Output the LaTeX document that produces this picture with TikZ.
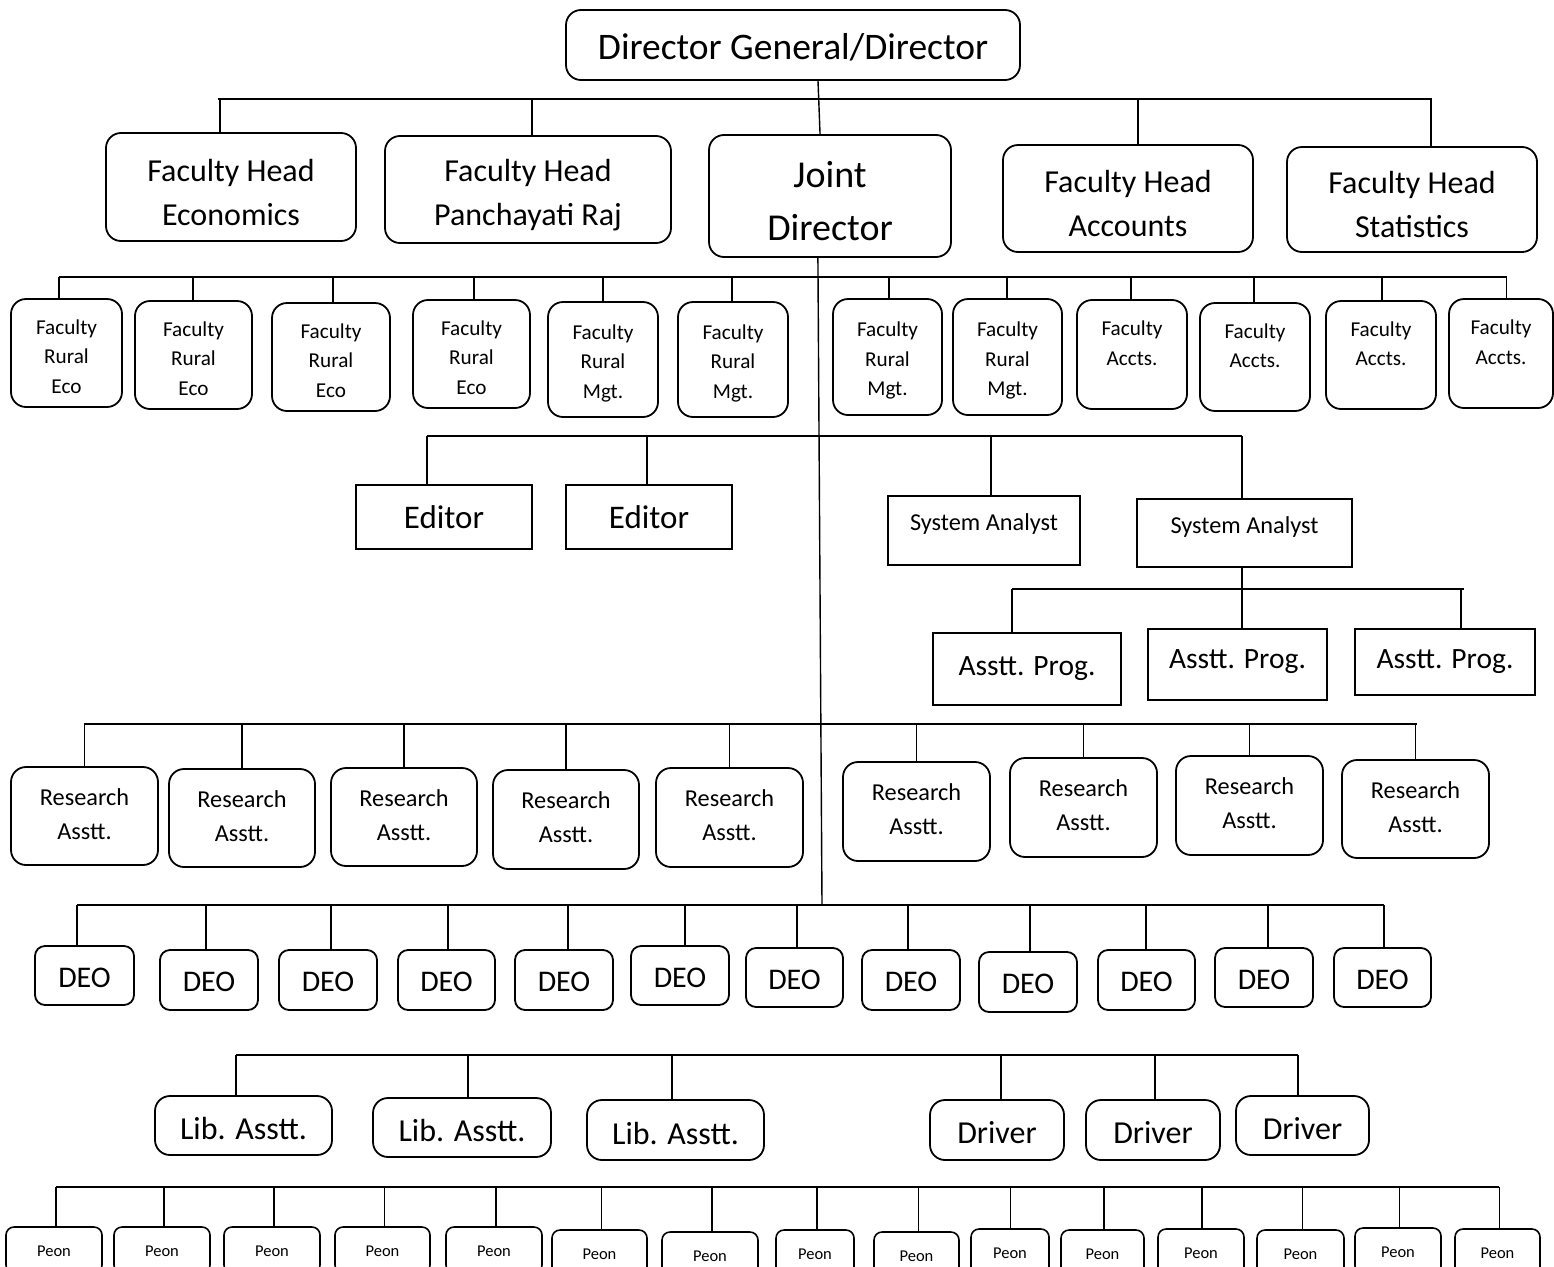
\documentclass[tikz,border=0pt]{standalone}
\usepackage{fontspec}
\setmainfont{Carlito}
\usetikzlibrary{calc}
\newcommand\bx[8]{\pgfmathsetmacro\bxw{#4-#2}\pgfmathsetmacro\bxh{#5-#3}\pgfmathsetmacro\bxx{(#2+#4)/2}\pgfmathsetmacro\bxy{(#3+#5)/2}\node[#6,minimum width=\bxw pt,minimum height=\bxh pt,label={[#7,align=center,inner sep=0pt]center:{#8}}] (#1) at (\bxx,\bxy) {};}
\newcommand\drop[3]{\path ($(#1.north west)!#2!(#1.north east)$) coordinate (tmpc); \draw[conn] (tmpc) -- (tmpc |- #3);}
\tikzset{
  rbox/.style={draw, line width=1.8pt, rounded corners=15pt, inner sep=0pt, outer sep=0pt},
  dbox/.style={draw, line width=1.8pt, rounded corners=10pt, inner sep=0pt, outer sep=0pt},
  pbox/.style={draw, line width=1.6pt, rounded corners=8pt, inner sep=0pt, outer sep=0pt},
  sbox/.style={draw, line width=1.8pt, inner sep=0pt, outer sep=0pt},
  conn/.style={line width=1.4pt},
  bar/.style={line width=2.4pt},
  tDG/.style={font=\fontsize{37.5}{40}\selectfont, yshift=-2pt},
  tJD/.style={font=\fontsize{38}{53}\selectfont, yshift=-5pt},
  tFH/.style={font=\fontsize{32}{44}\selectfont, yshift=-5.5pt},
  tFac/.style={font=\fontsize{21.2}{29.5}\selectfont, yshift=-3.5pt},
  tEd/.style={font=\fontsize{33}{36}\selectfont},
  tSA/.style={font=\fontsize{24.3}{28}\selectfont, yshift=6pt},
  tAP/.style={font=\fontsize{29.5}{34}\selectfont},
  tRA/.style={font=\fontsize{24.3}{34}\selectfont, yshift=2pt},
  tDEO/.style={font=\fontsize{30}{32}\selectfont, yshift=-2pt},
  tLib/.style={font=\fontsize{32}{36}\selectfont, yshift=-3pt},
  tPeon/.style={font=\fontsize{16.5}{19}\selectfont, yshift=-1pt},
}
\begin{document}
\begin{tikzpicture}[x=1pt,y=-1pt]
\useasboundingbox (0,0) rectangle (1554,1266);
\fill[white] (0,0) rectangle (1554,1266);
\clip (0,0) rectangle (1554,1266);
% Top
\bx{dg}{566}{10}{1020}{80}{rbox}{tDG}{Director General/Director}
% Level 1
\bx{fhe}{106}{133}{356}{241}{rbox}{tFH}{Faculty Head\\Economics}
\bx{fhp}{385}{136}{671}{243}{rbox}{tFH}{Faculty Head\\Panchayati Raj}
\bx{jd}{709}{135}{951}{257}{rbox}{tJD}{Joint\\Director}
\bx{fha}{1003}{145}{1253}{252}{rbox}{tFH}{Faculty Head\\Accounts}
\bx{fhs}{1287}{147}{1537}{252}{rbox}{tFH}{Faculty Head\\Statistics}
\coordinate (b1a) at (218,99); \coordinate (b1b) at (1432,99);
\draw[bar] (b1a) -- (b1b);
\path ($(dg.south west)!0.555!(dg.south east)$) coordinate (dgs);
\path ($(jd.north west)!0.459!(jd.north east)$) coordinate (jdn);
\draw[conn] (dgs) -- (jdn);
\drop{fhe}{0.456}{b1a}
\drop{fhp}{0.514}{b1a}
\drop{fha}{0.54}{b1a}
\drop{fhs}{0.576}{b1a}
% Level 2 faculty
\bx{f1}{11}{299}{122}{407}{rbox}{tFac}{Faculty\\Rural\\Eco}
\bx{f2}{135}{301}{252}{409}{rbox}{tFac}{Faculty\\Rural\\Eco}
\bx{f3}{272}{303}{390}{411}{rbox}{tFac}{Faculty\\Rural\\Eco}
\bx{f4}{413}{300}{530}{408}{rbox}{tFac}{Faculty\\Rural\\Eco}
\bx{f5}{548}{302}{658}{417}{rbox}{tFac}{Faculty\\Rural\\Mgt.}
\bx{f6}{678}{302}{788}{417}{rbox}{tFac}{Faculty\\Rural\\Mgt.}
\bx{f7}{833}{299}{942}{415}{rbox}{tFac}{Faculty\\Rural\\Mgt.}
\bx{f8}{953}{299}{1062}{415}{rbox}{tFac}{Faculty\\Rural\\Mgt.}
\bx{f9}{1077}{300}{1187}{409}{rbox}{tFac}{Faculty\\Accts.\\\mbox{}}
\bx{f10}{1200}{303}{1310}{411}{rbox}{tFac}{Faculty\\Accts.\\\mbox{}}
\bx{f11}{1326}{301}{1436}{409}{rbox}{tFac}{Faculty\\Accts.\\\mbox{}}
\bx{f12}{1449}{299}{1553}{408}{rbox}{tFac}{Faculty\\Accts.\\\mbox{}}
\coordinate (b2a) at (59,277); \coordinate (b2b) at (1507,277);
\draw[bar] (b2a) -- (b2b);
\drop{f1}{0.432}{b2a}
\drop{f2}{0.496}{b2a}
\drop{f3}{0.517}{b2a}
\drop{f4}{0.521}{b2a}
\drop{f5}{0.5}{b2a}
\drop{f6}{0.491}{b2a}
\drop{f7}{0.514}{b2a}
\drop{f8}{0.495}{b2a}
\drop{f9}{0.491}{b2a}
\drop{f10}{0.491}{b2a}
\drop{f11}{0.509}{b2a}
\drop{f12}{0.55}{b2a}
% trunk
\path ($(jd.south west)!0.45!(jd.south east)$) coordinate (jds);
\coordinate (trk) at (822,905);
\draw[conn] (jds) -- (trk);
% Editors and system analysts
\bx{ed1}{356}{485}{532}{549}{sbox}{tEd}{Editor}
\bx{ed2}{566}{485}{732}{549}{sbox}{tEd}{Editor}
\bx{sa1}{888}{496}{1080}{565}{sbox}{tSA}{System Analyst}
\bx{sa2}{1137}{499}{1352}{567}{sbox}{tSA}{System Analyst}
\coordinate (b3a) at (427,436); \coordinate (b3b) at (1242,436);
\draw[bar] (b3a) -- (b3b);
\drop{ed1}{0.403}{b3a}
\drop{ed2}{0.488}{b3a}
\drop{sa1}{0.536}{b3a}
\drop{sa2}{0.488}{b3a}
% Asstt. Prog.
\bx{ap1}{933}{633}{1121}{705}{sbox}{tAP}{Asstt. Prog.}
\bx{ap2}{1148}{629}{1327}{700}{sbox}{tAP,yshift=3pt}{Asstt. Prog.}
\bx{ap3}{1355}{629}{1535}{695}{sbox}{tAP}{Asstt. Prog.}
\path ($(sa2.south west)!0.488!(sa2.south east)$) coordinate (sas);
\coordinate (b4a) at (1012,589); \coordinate (b4b) at (1464,589);
\draw[bar] (b4a) -- (b4b);
\drop{ap1}{0.42}{b4a}
\drop{ap2}{0.525}{sas}
\drop{ap3}{0.589}{b4a}
% Research Asstt.
\bx{ra1}{11}{767}{158}{865}{rbox}{tRA}{Research\\Asstt.}
\bx{ra2}{169}{769}{315}{867}{rbox}{tRA}{Research\\Asstt.}
\bx{ra3}{331}{768}{477}{866}{rbox}{tRA}{Research\\Asstt.}
\bx{ra4}{493}{770}{639}{869}{rbox}{tRA}{Research\\Asstt.}
\bx{ra5}{656}{768}{803}{867}{rbox}{tRA}{Research\\Asstt.}
\bx{ra6}{843}{762}{990}{861}{rbox}{tRA}{Research\\Asstt.}
\bx{ra7}{1010}{758}{1157}{857}{rbox}{tRA}{Research\\Asstt.}
\bx{ra8}{1176}{756}{1323}{855}{rbox}{tRA}{Research\\Asstt.}
\bx{ra9}{1342}{760}{1489}{858}{rbox}{tRA}{Research\\Asstt.}
\coordinate (b5a) at (84,724); \coordinate (b5b) at (1417,724);
\draw[bar] (b5a) -- (b5b);
\foreach \n in {ra1,ra2,ra3,ra4,ra5,ra6,ra7,ra8,ra9}{\drop{\n}{0.5}{b5a}}
% DEO
\bx{d1}{35}{946}{134}{1005}{dbox}{tDEO}{DEO}
\bx{d2}{160}{950}{258}{1010}{dbox}{tDEO}{DEO}
\bx{d3}{279}{950}{377}{1010}{dbox}{tDEO}{DEO}
\bx{d4}{398}{950}{495}{1010}{dbox}{tDEO}{DEO}
\bx{d5}{515}{950}{613}{1010}{dbox}{tDEO}{DEO}
\bx{d6}{631}{946}{729}{1005}{dbox}{tDEO}{DEO}
\bx{d7}{746}{948}{843}{1007}{dbox}{tDEO}{DEO}
\bx{d8}{862}{950}{960}{1010}{dbox}{tDEO}{DEO}
\bx{d9}{979}{952}{1077}{1012}{dbox}{tDEO}{DEO}
\bx{d10}{1098}{950}{1195}{1010}{dbox}{tDEO}{DEO}
\bx{d11}{1215}{948}{1313}{1007}{dbox}{tDEO}{DEO}
\bx{d12}{1334}{948}{1431}{1007}{dbox}{tDEO}{DEO}
\coordinate (b6a) at (77,905); \coordinate (b6b) at (1384,905);
\draw[bar] (b6a) -- (b6b);
\drop{d1}{0.424}{b6a}
\drop{d2}{0.469}{b6a}
\drop{d3}{0.53}{b6a}
\drop{d4}{0.515}{b6a}
\drop{d5}{0.54}{b6a}
\drop{d6}{0.55}{b6a}
\drop{d7}{0.526}{b6a}
\drop{d8}{0.47}{b6a}
\drop{d9}{0.52}{b6a}
\drop{d10}{0.495}{b6a}
\drop{d11}{0.54}{b6a}
\drop{d12}{0.515}{b6a}
% Lib / Driver
\bx{l1}{155}{1096}{332}{1155}{rbox}{tLib}{Lib. Asstt.}
\bx{l2}{373}{1098}{551}{1157}{rbox}{tLib}{Lib. Asstt.}
\bx{l3}{587}{1100}{764}{1160}{rbox}{tLib}{Lib. Asstt.}
\bx{dr1}{930}{1100}{1064}{1160}{rbox}{tLib}{Driver}
\bx{dr2}{1086}{1100}{1220}{1160}{rbox}{tLib}{Driver}
\bx{dr3}{1236}{1096}{1369}{1155}{rbox}{tLib}{Driver}
\coordinate (b7a) at (236,1055); \coordinate (b7b) at (1298,1055);
\draw[bar] (b7a) -- (b7b);
\drop{l1}{0.458}{b7a}
\drop{l2}{0.534}{b7a}
\drop{l3}{0.48}{b7a}
\drop{dr1}{0.53}{b7a}
\drop{dr2}{0.515}{b7a}
\drop{dr3}{0.466}{b7a}
% Peon
\bx{p1}{6}{1227}{102}{1273}{pbox}{tPeon}{Peon}
\bx{p2}{114}{1227}{210}{1273}{pbox}{tPeon}{Peon}
\bx{p3}{224}{1227}{320}{1273}{pbox}{tPeon}{Peon}
\bx{p4}{335}{1227}{430}{1273}{pbox}{tPeon}{Peon}
\bx{p5}{446}{1227}{542}{1273}{pbox}{tPeon}{Peon}
\bx{p6}{552}{1230}{647}{1276}{pbox}{tPeon}{Peon}
\bx{p7}{662}{1232}{758}{1278}{pbox}{tPeon}{Peon}
\bx{p8}{776}{1230}{854}{1276}{pbox}{tPeon}{Peon}
\bx{p9}{874}{1232}{959}{1278}{pbox}{tPeon}{Peon}
\bx{p10}{971}{1229}{1049}{1275}{pbox}{tPeon}{Peon}
\bx{p11}{1061}{1230}{1144}{1276}{pbox}{tPeon}{Peon}
\bx{p12}{1158}{1229}{1244}{1275}{pbox}{tPeon}{Peon}
\bx{p13}{1257}{1230}{1344}{1276}{pbox}{tPeon}{Peon}
\bx{p14}{1355}{1228}{1441}{1274}{pbox}{tPeon}{Peon}
\bx{p15}{1455}{1229}{1540}{1275}{pbox}{tPeon}{Peon}
\coordinate (b8a) at (56,1187); \coordinate (b8b) at (1499,1187);
\draw[bar] (b8a) -- (b8b);
\drop{p1}{0.52}{b8a}
\drop{p2}{0.52}{b8a}
\drop{p3}{0.52}{b8a}
\drop{p4}{0.52}{b8a}
\drop{p5}{0.52}{b8a}
\drop{p6}{0.52}{b8a}
\drop{p7}{0.52}{b8a}
\drop{p8}{0.526}{b8a}
\drop{p9}{0.52}{b8a}
\drop{p10}{0.51}{b8a}
\drop{p11}{0.52}{b8a}
\drop{p12}{0.51}{b8a}
\drop{p13}{0.52}{b8a}
\drop{p14}{0.52}{b8a}
\drop{p15}{0.52}{b8a}
\end{tikzpicture}
\end{document}
